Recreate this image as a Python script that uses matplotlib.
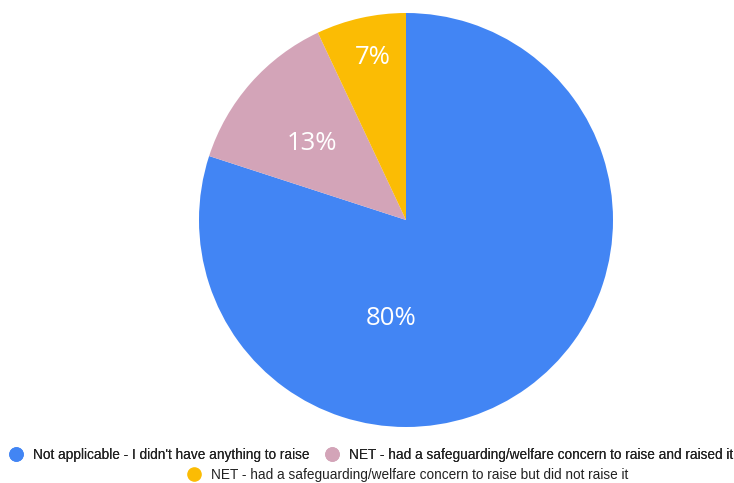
import matplotlib
matplotlib.use("Agg")
import matplotlib.pyplot as plt
import numpy as np
from matplotlib.lines import Line2D

# ---- data ------------------------------------------------------------------
labels = [
    "Not applicable - I didn't have anything to raise",
    "NET - had a safeguarding/welfare concern to raise and raised it",
    "NET - had a safeguarding/welfare concern to raise but did not raise it",
]
shares = [80, 13, 7]

# ---- style -----------------------------------------------------------------
COLORS = ["#4285F4", "#D3A4B8", "#FBBC04"]
# label placement per slice: (angle in degrees, fraction of radius)
LABEL_POS = [(-98.7, 0.48), (141.0, 0.585), (101.5, 0.80)]

W, H, DPI = 734, 483, 100
fig = plt.figure(figsize=(W / DPI, H / DPI), dpi=DPI)
fig.patch.set_facecolor("white")

# square axes around the pie (pixel box 199..613 x 13..427)
ax = fig.add_axes([199 / W, 1 - 427 / H, 414 / W, 414 / H])
wedges, _ = ax.pie(shares, colors=COLORS, startangle=90, counterclock=False,
                   radius=1.0, wedgeprops=dict(linewidth=0))
ax.set_xlim(-1, 1)
ax.set_ylim(-1, 1)
ax.set_aspect("equal")
ax.axis("off")

for val, (ang, r) in zip(shares, LABEL_POS):
    a = np.deg2rad(ang)
    ax.text(r * np.cos(a), r * np.sin(a), f"{val}%", color="white",
            fontsize=18.5, ha="center", va="center", family="Open Sans")

# ---- legend: two rows ------------------------------------------------------
def handle(c):
    return Line2D([], [], marker="o", linestyle="", markersize=9.5,
                  markerfacecolor=c, markeredgecolor=c)

leg_kw = dict(loc="center", frameon=False, handlelength=1.0,
              handletextpad=0.75, columnspacing=1.2, borderpad=0,
              labelcolor="#222222",
              prop={"family": "Liberation Sans", "size": 9.8})

leg1 = fig.legend([handle(COLORS[0]), handle(COLORS[1])], labels[:2],
                  ncol=2, bbox_to_anchor=(371 / W, 1 - 455 / H), **leg_kw)
fig.add_artist(leg1)
fig.legend([handle(COLORS[2])], labels[2:], ncol=1,
           bbox_to_anchor=(408 / W, 1 - 475 / H), **leg_kw)

fig.savefig("out.png", dpi=DPI, facecolor="white")
